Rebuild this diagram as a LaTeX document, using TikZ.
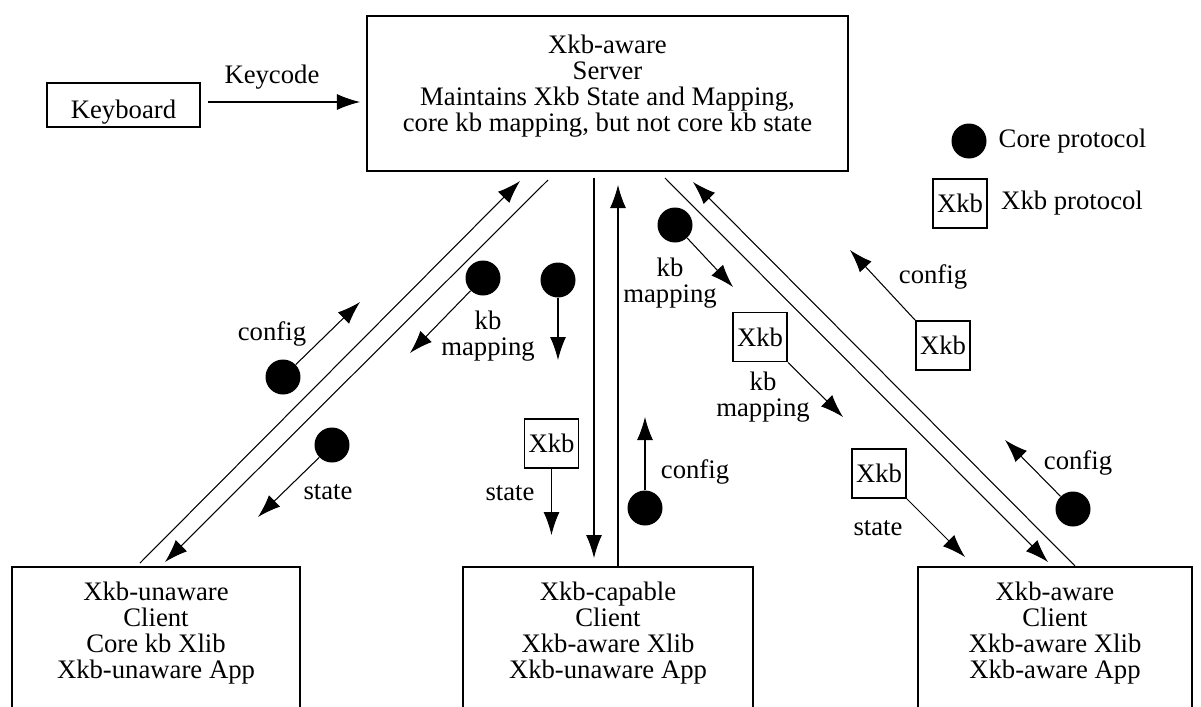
\documentclass[tikz,border=0pt]{standalone}
\usepackage{fontspec}
\setmainfont{Liberation Serif}
\usetikzlibrary{arrows.meta, positioning}
\tikzset{>={Latex[length=4.6mm,width=3.2mm]}}

\begin{document}
\begin{tikzpicture}[x=0.02cm, y=-0.02cm,
	font=\fontsize{15.2}{14.8}\selectfont,
	box/.style={draw, line width=1.1pt},
	xkbbox/.style={draw, line width=1pt, minimum width=1.08cm, minimum height=0.98cm, inner sep=0pt},
	dot/.style={circle, fill=black, minimum size=0.7cm, inner sep=0pt},
	flow/.style={->, line width=0.6pt},
	lbl/.style={align=center, inner sep=0pt}]
	\useasboundingbox (0,0) rectangle (1201,707);

% keyboard and server
	\node[box,
		minimum width=3.06cm,
		minimum height=0.88cm,
		text height=14.8pt,
		text depth=0pt] (keyboard) at (123.5,105) {Keyboard};
	\node[box,
		minimum width=9.62cm,
		minimum height=3.1cm] (server) at (607.5,93.5) {};
	\node[lbl, below=0.4cm of server.north] (servertext)
		{Xkb-aware\\Server\\Maintains Xkb State and Mapping,\\core kb mapping, but not core kb state};
	\draw[flow, shorten <=4pt, shorten >=3.5pt] (keyboard.east |- 0,102) -- (server.west |- 0,102)
		node[pos=0.43, above=7pt, inner sep=0pt] (keycode) {Keycode};

% client boxes
	\node[box, anchor=north,
		minimum width=5.76cm,
		minimum height=3.4cm] (cunaware) at (156,566) {};
	\node[box, anchor=north,
		minimum width=5.8cm,
		minimum height=3.4cm] (ccapable) at (608,566) {};
	\node[box, anchor=north,
		minimum width=5.48cm,
		minimum height=3.4cm] (caware) at (1055,566) {};
	\node[lbl, below=0.32cm of cunaware.north] (cunawaretext)
		{Xkb-unaware\\Client\\Core kb Xlib\\Xkb-unaware App};
	\node[lbl, below=0.32cm of ccapable.north] (ccapabletext)
		{Xkb-capable\\Client\\Xkb-aware Xlib\\Xkb-unaware App};
	\node[lbl, below=0.32cm of caware.north] (cawaretext)
		{Xkb-aware\\Client\\Xkb-aware Xlib\\Xkb-aware App};

% legend
	\node[dot] (legcore) at (969,141) {};
	\node[right=0.23cm of legcore, inner sep=0pt] (legcoretext) {Core protocol};
	\node[xkbbox] (legxkb) at (960,203.5) {Xkb};
	\node[right=0.26cm of legxkb, inner sep=0pt] (legxkbtext) {Xkb protocol};

% server <-> Xkb-unaware client
	\coordinate (lupS) at (140,563);
	\coordinate (lupE) at (520,181);
	\coordinate (ldownS) at (548,180);
	\coordinate (ldownE) at (165,562);
	\draw[flow] (lupS) -- (lupE);
	\draw[flow] (ldownS) -- (ldownE);

	\node[dot] (cfgdotL) at (283,377) {};
	\coordinate (cfgendL) at (360,302);
	\draw[flow] (cfgdotL) -- (cfgendL);
	\node[lbl] (cfglblL) at (272,334) {config};

	\node[dot] (stdotL) at (332,445) {};
	\coordinate (stendL) at (258,517);
	\draw[flow] (stdotL) -- (stendL);
	\node[lbl] (stlblL) at (328,492) {state};

	\node[dot] (mapdotL) at (483,278) {};
	\coordinate (mapendL) at (410,353);
	\draw[flow] (mapdotL) -- (mapendL);
	\node[lbl] (maplblL) at (488,336) {kb\\mapping};

% server <-> Xkb-capable client
	\node[dot] (mapdotC) at (558,280) {};
	\coordinate (mapendC) at (558,360);
	\draw[flow] (mapdotC) -- (mapendC);

	\node[xkbbox] (xkbstC) at (551.5,443.5) {Xkb};
	\coordinate (stendC) at (551.5,535);
	\draw[flow] (xkbstC) -- (stendC);
	\node[lbl] (stlblC) at (510,493) {state};

	\coordinate (cdownS) at (594,178);
	\coordinate (cdownE) at (594,558);
	\coordinate (cupS) at (618,566);
	\coordinate (cupE) at (618,185);
	\draw[flow] (cdownS) -- (cdownE);
	\draw[flow] (cupS) -- (cupE);

	\node[dot] (cfgdotC) at (645,508) {};
	\coordinate (cfgendC) at (645,417);
	\draw[flow] (cfgdotC) -- (cfgendC);
	\node[lbl] (cfglblC) at (695,472) {config};

% server <-> Xkb-aware client
	\node[dot] (mapdotR) at (675,225) {};
	\coordinate (mapendR) at (733,287);
	\draw[flow] (mapdotR) -- (mapendR);
	\node[lbl] (maplblR) at (670,283) {kb\\mapping};

	\node[xkbbox] (xkbmapR) at (760,337) {Xkb};
	\coordinate (xmapendR) at (843,417);
	\draw[flow] (xkbmapR.south east) -- (xmapendR);
	\node[lbl] (xmaplblR) at (763,397) {kb\\mapping};

	\coordinate (rdownS) at (665,178);
	\coordinate (rdownE) at (1048,562);
	\coordinate (rupS) at (1075,566);
	\coordinate (rupE) at (693,182);
	\draw[flow] (rdownS) -- (rdownE);
	\draw[flow] (rupS) -- (rupE);

	\node[xkbbox] (xkbcfgR) at (943,345.5) {Xkb};
	\coordinate (xcfgendR) at (850,250);
	\draw[flow] (xkbcfgR.north west) -- (xcfgendR);
	\node[lbl] (xcfglblR) at (933,277) {config};

	\node[xkbbox] (xkbstR) at (879,473.5) {Xkb};
	\coordinate (xstendR) at (965,557);
	\draw[flow] (xkbstR.south east) -- (xstendR);
	\node[lbl] (xstlblR) at (878,528) {state};

	\node[dot] (cfgdotR) at (1073,509) {};
	\coordinate (cfgendR) at (1005,440);
	\draw[flow] (cfgdotR) -- (cfgendR);
	\node[lbl] (cfglblR) at (1078,463) {config};
\end{tikzpicture}
\end{document}
